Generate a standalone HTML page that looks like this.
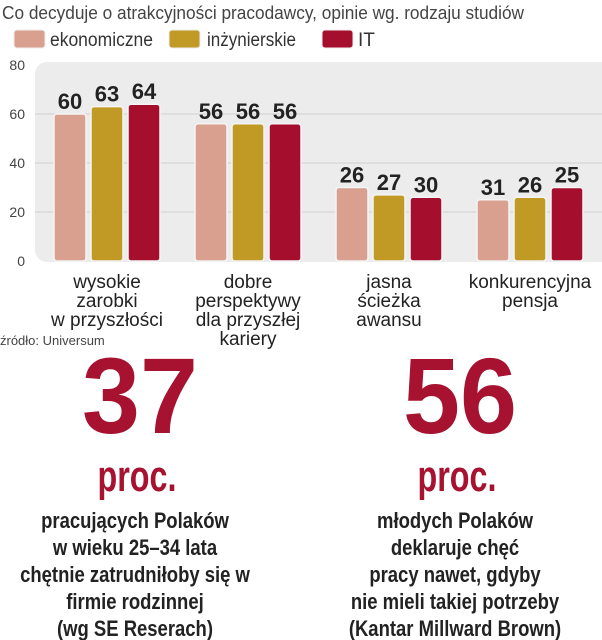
<!DOCTYPE html>
<html><head><meta charset="utf-8"><style>
body{margin:0;background:#fff}
svg{display:block}
text{font-family:"Liberation Sans Narrow","Liberation Sans",sans-serif}
</style></head><body>
<svg id="c" width="602" height="640" viewBox="0 0 602 640">
<text x="2" y="19" font-size="18" fill="#444" textLength="522" lengthAdjust="spacingAndGlyphs">Co decyduje o atrakcyjności pracodawcy, opinie wg. rodzaju studiów</text>
<g>
<rect x="14" y="30" width="31" height="18" rx="3" fill="#d9a090" stroke="#eee"/>
<text x="50" y="46" font-size="19" fill="#333" textLength="103" lengthAdjust="spacingAndGlyphs">ekonomiczne</text>
<rect x="169" y="30" width="31" height="18" rx="3" fill="#c09a25" stroke="#eee"/>
<text x="207" y="46" font-size="19" fill="#333" textLength="89" lengthAdjust="spacingAndGlyphs">inżynierskie</text>
<rect x="322" y="30" width="31" height="18" rx="3" fill="#a50f2d" stroke="#eee"/>
<text x="358" y="46" font-size="19" fill="#333">IT</text>
</g>
<rect x="35" y="62" width="580" height="200" rx="12" fill="#ececec"/>
<g id="grid"></g><g id="bars"></g><g id="labels"></g>
<text x="0" y="345" font-size="13" fill="#444">źródło: Universum</text>
<g fill="#a6122f" font-weight="bold" text-anchor="middle">
<text x="140" y="433" font-size="108" textLength="116" lengthAdjust="spacingAndGlyphs">37</text>
<text x="460" y="433" font-size="108" textLength="114" lengthAdjust="spacingAndGlyphs">56</text>
<text x="137" y="491" font-size="44" textLength="79" lengthAdjust="spacingAndGlyphs">proc.</text>
<text x="457" y="491" font-size="44" textLength="79" lengthAdjust="spacingAndGlyphs">proc.</text>
</g>
<g fill="#222" font-size="22" text-anchor="middle" font-weight="bold">
<g transform="translate(135,0) scale(0.84,1)">
<text x="0" y="528">pracujących Polaków</text>
<text x="0" y="555">w wieku 25–34 lata</text>
<text x="0" y="582">chętnie zatrudniłoby się w</text>
<text x="0" y="609">firmie rodzinnej</text>
<text x="0" y="636">(wg SE Reserach)</text>
</g>
<g transform="translate(455,0) scale(0.84,1)">
<text x="0" y="528">młodych Polaków</text>
<text x="0" y="555">deklaruje chęć</text>
<text x="0" y="582">pracy nawet, gdyby</text>
<text x="0" y="609">nie mieli takiej potrzeby</text>
<text x="0" y="636">(Kantar Millward Brown)</text>
</g>
</g>
</svg>
<script>
const categories = [["wysokie","zarobki","w przyszłości"],["dobre","perspektywy","dla przyszłej","kariery"],["jasna","ścieżka","awansu"],["konkurencyjna","pensja"]];
const seriesNames = ["ekonomiczne","inzynierskie","it"];
const ekonomiczne = [60, 56, 30, 25];
const inzynierskie = [63, 56, 27, 26];
const it = [64, 56, 26, 30];
const ekonomiczneLabels = ["60","56","26","31"];
const inzynierskieLabels = ["63","56","27","26"];
const itLabels = ["64","56","30","25"];
const yTicks = [0, 20, 40, 60, 80];

const NS="http://www.w3.org/2000/svg";
const y0=261, yTop=65, vMax=80;
const yS=v=>y0-(v/vMax)*(y0-yTop);
const groupX=i=>54+i*141;
const barX=(i,s)=>groupX(i)+s*37;
const barW=32;
const colors=["#d9a090","#c09a25","#a50f2d"];
const series=[ekonomiczne,inzynierskie,it];
const labelsArr=[ekonomiczneLabels,inzynierskieLabels,itLabels];
function mk(tag,attrs,parent,txt){const e=document.createElementNS(NS,tag);for(const k in attrs)e.setAttribute(k,attrs[k]);if(txt!==undefined)e.textContent=txt;parent.appendChild(e);return e;}
const grid=document.getElementById('grid'),bars=document.getElementById('bars'),lab=document.getElementById('labels');
yTicks.forEach(t=>{
  if(t>0&&t<vMax){const l=mk('line',{x1:35,x2:602,y1:yS(t),y2:yS(t),stroke:'#cfcfcf','stroke-width':1},grid);
  
  }
  const tx=mk('text',{x:25,y:yS(t)+5,'font-size':14,fill:'#444','text-anchor':'end'},grid,String(t));
  
  
});
categories.forEach((cat,i)=>{
  series.forEach((ser,s)=>{
    const v=ser[i];
    const r=mk('rect',{x:barX(i,s),y:yS(v),width:barW,height:y0-yS(v),rx:3,fill:colors[s],stroke:'#f4f4f4','stroke-width':1.5},bars);
    
    
    const t=mk('text',{x:barX(i,s)+barW/2,y:yS(v)-5,'font-size':22,'font-weight':'bold',fill:'#222','text-anchor':'middle'},lab,labelsArr[s][i]);
    
    
  });
  const cx=groupX(i)+(2*37+barW)/2;
  cat.forEach((line,j)=>{
    const t=mk('text',{x:cx,y:288+j*19,'font-size':19,fill:'#222','text-anchor':'middle'},lab,line);
    
    
  });
});
</script>
</body></html>
